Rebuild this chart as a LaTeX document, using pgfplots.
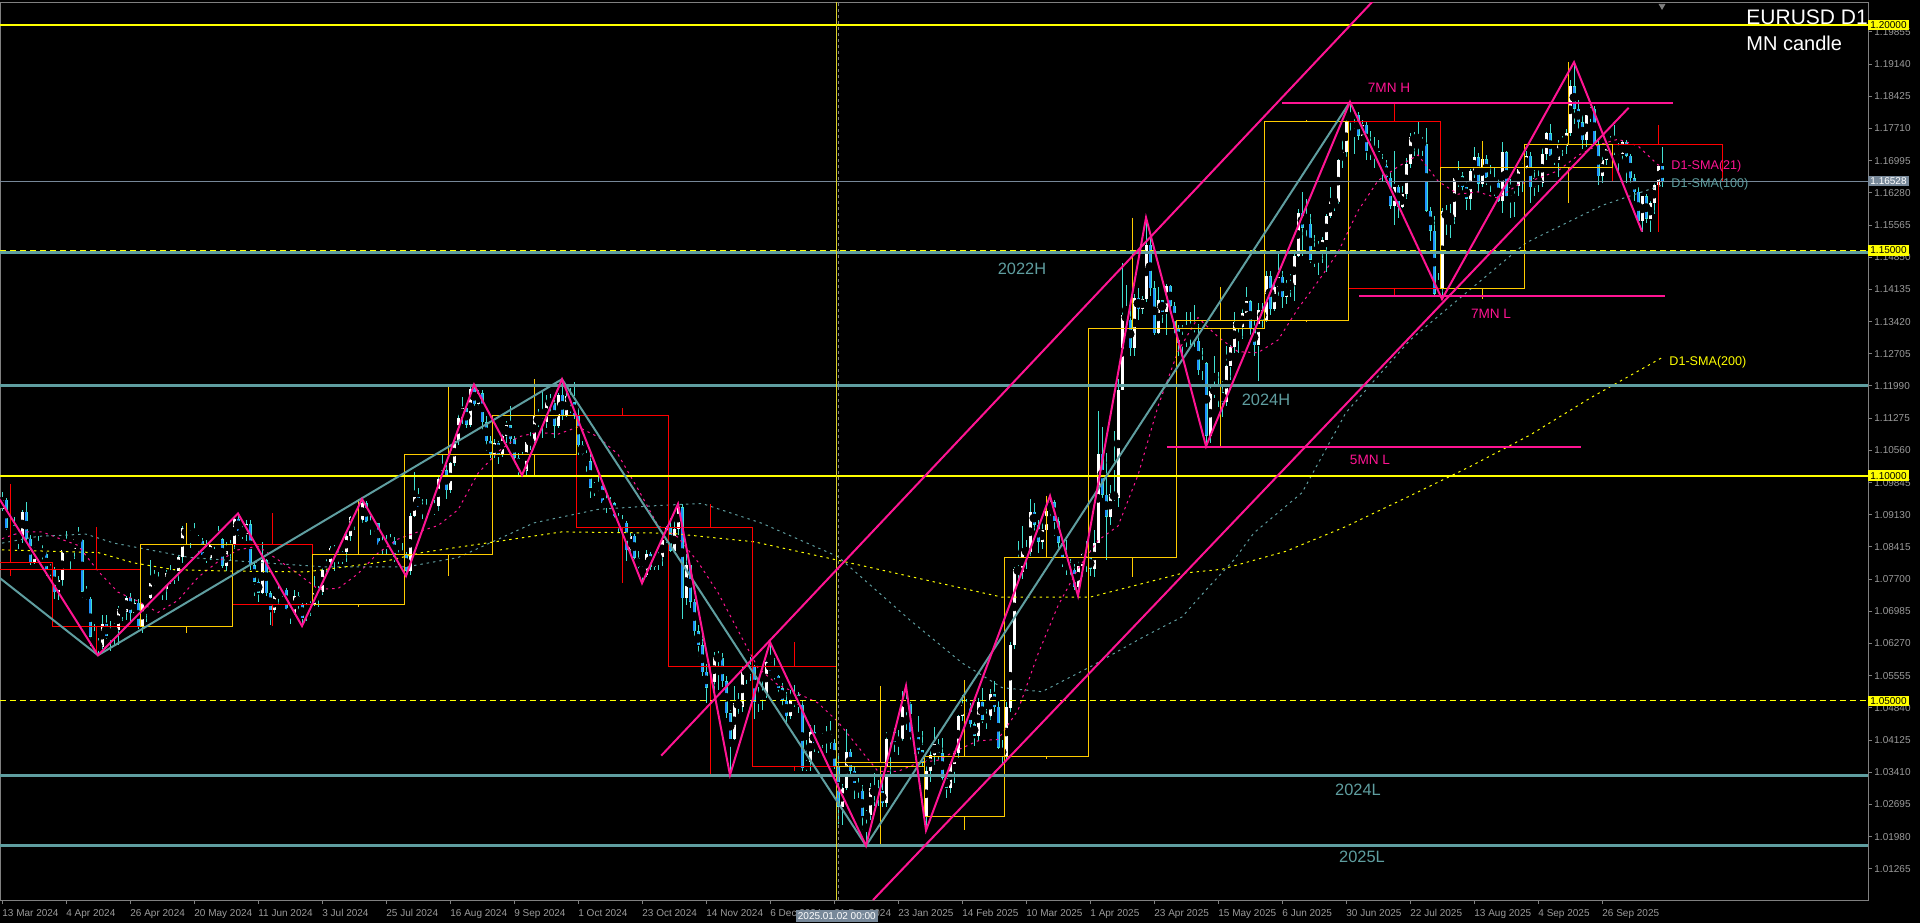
\documentclass[border=0pt]{standalone}
\usepackage{fontspec}
\setmainfont{Liberation Sans}
\usepackage{pgfplots}
\usepackage{pgfplotstable}
\pgfplotsset{compat=1.18}
\definecolor{tealc}{RGB}{95,158,160}
\definecolor{pinkc}{RGB}{255,20,147}
\definecolor{mgold}{RGB}{255,204,0}
\definecolor{mred}{RGB}{255,0,0}
\definecolor{wickc}{RGB}{64,224,208}
\definecolor{downc}{RGB}{30,144,255}
\definecolor{tickgray}{RGB}{155,155,155}
\definecolor{framegray}{RGB}{128,128,128}
\definecolor{bidgray}{RGB}{119,136,153}
\definecolor{lvly}{RGB}{255,255,0}
\definecolor{vline}{RGB}{220,210,40}

\pgfplotstableread{
x o h l c
0 1.0927 1.0964 1.0922 1.0946
1 1.0946 1.0950 1.0879 1.0883
2 1.0883 1.0906 1.0872 1.0890
3 1.0890 1.0908 1.0862 1.0868
4 1.0868 1.0880 1.0836 1.0865
5 1.0865 1.0924 1.0850 1.0920
6 1.0920 1.0942 1.0856 1.0860
7 1.0860 1.0867 1.0802 1.0808
8 1.0808 1.0845 1.0803 1.0840
9 1.0840 1.0865 1.0826 1.0830
10 1.0830 1.0846 1.0812 1.0826
11 1.0826 1.0831 1.0777 1.0790
12 1.0790 1.0803 1.0776 1.0792
13 1.0792 1.0796 1.0725 1.0741
14 1.0741 1.0776 1.0724 1.0769
15 1.0769 1.0838 1.0755 1.0835
16 1.0835 1.0876 1.0825 1.0837
17 1.0837 1.0847 1.0791 1.0836
18 1.0836 1.0862 1.0815 1.0860
19 1.0860 1.0885 1.0847 1.0857
20 1.0857 1.0860 1.0729 1.0742
21 1.0742 1.0756 1.0723 1.0727
22 1.0727 1.0730 1.0622 1.0642
23 1.0642 1.0670 1.0620 1.0625
24 1.0625 1.0640 1.0601 1.0620
25 1.0620 1.0691 1.0614 1.0671
26 1.0671 1.0690 1.0638 1.0643
27 1.0643 1.0678 1.0610 1.0655
28 1.0655 1.0673 1.0624 1.0657
29 1.0657 1.0710 1.0623 1.0703
30 1.0703 1.0715 1.0676 1.0698
31 1.0698 1.0733 1.0680 1.0729
32 1.0729 1.0740 1.0676 1.0694
33 1.0694 1.0725 1.0690 1.0718
34 1.0718 1.0726 1.0659 1.0665
35 1.0665 1.0717 1.0650 1.0715
36 1.0715 1.0730 1.0675 1.0728
37 1.0728 1.0812 1.0725 1.0761
38 1.0761 1.0790 1.0755 1.0770
39 1.0770 1.0787 1.0746 1.0753
40 1.0753 1.0764 1.0724 1.0748
41 1.0748 1.0790 1.0724 1.0783
42 1.0783 1.0801 1.0760 1.0771
43 1.0771 1.0796 1.0759 1.0788
44 1.0788 1.0824 1.0766 1.0820
45 1.0820 1.0888 1.0806 1.0883
46 1.0883 1.0895 1.0850 1.0866
47 1.0866 1.0880 1.0840 1.0870
48 1.0870 1.0895 1.0852 1.0857
49 1.0857 1.0867 1.0828 1.0855
50 1.0855 1.0861 1.0815 1.0823
51 1.0823 1.0858 1.0805 1.0818
52 1.0818 1.0858 1.0812 1.0846
53 1.0846 1.0868 1.0838 1.0857
54 1.0857 1.0889 1.0846 1.0859
55 1.0859 1.0862 1.0795 1.0800
56 1.0800 1.0852 1.0789 1.0832
57 1.0832 1.0858 1.0812 1.0848
58 1.0848 1.0909 1.0836 1.0904
59 1.0904 1.0916 1.0866 1.0877
60 1.0877 1.0888 1.0860 1.0870
61 1.0870 1.0902 1.0854 1.0892
62 1.0892 1.0902 1.0790 1.0801
63 1.0801 1.0805 1.0732 1.0764
64 1.0764 1.0772 1.0719 1.0740
65 1.0740 1.0852 1.0737 1.0812
66 1.0812 1.0815 1.0733 1.0739
67 1.0739 1.0744 1.0668 1.0701
68 1.0701 1.0740 1.0695 1.0732
69 1.0732 1.0761 1.0713 1.0740
70 1.0740 1.0753 1.0731 1.0746
71 1.0746 1.0751 1.0698 1.0703
72 1.0703 1.0713 1.0671 1.0692
73 1.0692 1.0745 1.0691 1.0732
74 1.0732 1.0741 1.0699 1.0713
75 1.0713 1.0717 1.0666 1.0683
76 1.0683 1.0718 1.0677 1.0702
77 1.0702 1.0722 1.0688 1.0713
78 1.0713 1.0776 1.0710 1.0740
79 1.0740 1.0755 1.0709 1.0741
80 1.0741 1.0797 1.0735 1.0790
81 1.0790 1.0815 1.0785 1.0809
82 1.0809 1.0844 1.0796 1.0840
83 1.0840 1.0845 1.0789 1.0826
84 1.0826 1.0834 1.0803 1.0813
85 1.0813 1.0832 1.0804 1.0830
86 1.0830 1.0871 1.0808 1.0865
87 1.0865 1.0910 1.0854 1.0907
88 1.0907 1.0914 1.0880 1.0893
89 1.0893 1.0912 1.0873 1.0901
90 1.0901 1.0948 1.0895 1.0939
91 1.0939 1.0944 1.0890 1.0898
92 1.0898 1.0911 1.0869 1.0883
93 1.0883 1.0904 1.0870 1.0894
94 1.0894 1.0895 1.0843 1.0847
95 1.0847 1.0866 1.0825 1.0846
96 1.0846 1.0868 1.0825 1.0848
97 1.0848 1.0871 1.0836 1.0855
98 1.0855 1.0863 1.0808 1.0820
99 1.0820 1.0835 1.0802 1.0817
100 1.0817 1.0850 1.0799 1.0825
101 1.0825 1.0830 1.0777 1.0789
102 1.0789 1.0916 1.0780 1.0910
103 1.0910 1.1008 1.0907 1.0953
104 1.0953 1.0972 1.0926 1.0930
105 1.0930 1.0948 1.0904 1.0922
106 1.0922 1.0947 1.0905 1.0919
107 1.0919 1.0936 1.0908 1.0916
108 1.0916 1.0945 1.0913 1.0932
109 1.0932 1.0998 1.0921 1.0992
110 1.0992 1.1047 1.0987 1.1012
111 1.1012 1.1024 1.0949 1.0967
112 1.0967 1.1031 1.0962 1.1027
113 1.1027 1.1083 1.1021 1.1077
114 1.1077 1.1138 1.1067 1.1128
115 1.1128 1.1174 1.1114 1.1151
116 1.1151 1.1157 1.1106 1.1113
117 1.1113 1.1201 1.1108 1.1193
118 1.1193 1.1202 1.1154 1.1159
119 1.1159 1.1190 1.1145 1.1183
120 1.1183 1.1191 1.1101 1.1118
121 1.1118 1.1133 1.1055 1.1077
122 1.1077 1.1089 1.1040 1.1047
123 1.1047 1.1082 1.1040 1.1073
124 1.1073 1.1076 1.1026 1.1046
125 1.1046 1.1095 1.1041 1.1089
126 1.1089 1.1121 1.1072 1.1112
127 1.1112 1.1155 1.1070 1.1081
128 1.1081 1.1088 1.1027 1.1040
129 1.1040 1.1050 1.1002 1.1017
130 1.1017 1.1052 1.1001 1.1010
131 1.1010 1.1078 1.1002 1.1075
132 1.1075 1.1098 1.1058 1.1077
133 1.1077 1.1136 1.1069 1.1132
134 1.1132 1.1147 1.1109 1.1116
135 1.1116 1.1189 1.1084 1.1118
136 1.1118 1.1180 1.1105 1.1163
137 1.1163 1.1182 1.1138 1.1161
138 1.1161 1.1167 1.1083 1.1111
139 1.1111 1.1183 1.1105 1.1180
140 1.1180 1.1214 1.1124 1.1132
141 1.1132 1.1190 1.1131 1.1177
142 1.1177 1.1194 1.1140 1.1163
143 1.1163 1.1209 1.1126 1.1134
144 1.1134 1.1150 1.1046 1.1068
145 1.1068 1.1078 1.1035 1.1048
146 1.1048 1.1058 1.1003 1.1032
147 1.1032 1.1050 1.0951 1.0973
148 1.0973 1.0985 1.0955 1.0975
149 1.0975 1.0998 1.0955 1.0978
150 1.0978 1.0983 1.0937 1.0940
151 1.0940 1.0962 1.0918 1.0936
152 1.0936 1.0953 1.0921 1.0939
153 1.0939 1.0942 1.0901 1.0910
154 1.0910 1.0918 1.0872 1.0892
155 1.0892 1.0912 1.0865 1.0895
156 1.0895 1.0900 1.0811 1.0834
157 1.0834 1.0872 1.0827 1.0867
158 1.0867 1.0870 1.0810 1.0818
159 1.0818 1.0833 1.0784 1.0796
160 1.0796 1.0805 1.0761 1.0780
161 1.0780 1.0835 1.0774 1.0826
162 1.0826 1.0830 1.0790 1.0797
163 1.0797 1.0826 1.0790 1.0817
164 1.0817 1.0832 1.0790 1.0819
165 1.0819 1.0870 1.0800 1.0856
166 1.0856 1.0889 1.0850 1.0884
167 1.0884 1.0905 1.0830 1.0833
168 1.0833 1.0900 1.0830 1.0881
169 1.0881 1.0937 1.0868 1.0930
170 1.0930 1.0937 1.0682 1.0728
171 1.0728 1.0826 1.0713 1.0801
172 1.0801 1.0802 1.0706 1.0720
173 1.0720 1.0725 1.0629 1.0654
174 1.0654 1.0668 1.0595 1.0623
175 1.0623 1.0653 1.0555 1.0564
176 1.0564 1.0582 1.0496 1.0529
177 1.0529 1.0568 1.0500 1.0541
178 1.0541 1.0609 1.0520 1.0597
179 1.0597 1.0610 1.0523 1.0594
180 1.0594 1.0605 1.0530 1.0543
181 1.0543 1.0554 1.0462 1.0472
182 1.0472 1.0480 1.0335 1.0415
183 1.0415 1.0533 1.0412 1.0496
184 1.0496 1.0518 1.0470 1.0487
185 1.0487 1.0575 1.0475 1.0566
186 1.0566 1.0575 1.0537 1.0564
187 1.0564 1.0596 1.0543 1.0577
188 1.0577 1.0580 1.0460 1.0497
189 1.0497 1.0530 1.0475 1.0512
190 1.0512 1.0545 1.0480 1.0514
191 1.0514 1.0590 1.0505 1.0587
192 1.0587 1.0630 1.0555 1.0566
193 1.0566 1.0594 1.0540 1.0555
194 1.0555 1.0558 1.0510 1.0528
195 1.0528 1.0540 1.0480 1.0500
196 1.0500 1.0520 1.0450 1.0466
197 1.0466 1.0523 1.0460 1.0502
198 1.0502 1.0535 1.0485 1.0512
199 1.0512 1.0520 1.0472 1.0491
200 1.0491 1.0500 1.0343 1.0350
201 1.0350 1.0412 1.0343 1.0363
202 1.0363 1.0445 1.0343 1.0431
203 1.0431 1.0447 1.0386 1.0406
204 1.0406 1.0410 1.0385 1.0404
205 1.0404 1.0429 1.0395 1.0419
206 1.0419 1.0444 1.0385 1.0426
207 1.0426 1.0456 1.0393 1.0407
208 1.0407 1.0415 1.0349 1.0355
209 1.0355 1.0377 1.0226 1.0265
210 1.0265 1.0315 1.0224 1.0306
211 1.0306 1.0437 1.0301 1.0387
212 1.0387 1.0393 1.0330 1.0345
213 1.0345 1.0356 1.0282 1.0317
214 1.0317 1.0328 1.0283 1.0300
215 1.0300 1.0312 1.0213 1.0244
216 1.0244 1.0258 1.0178 1.0247
217 1.0247 1.0317 1.0236 1.0307
218 1.0307 1.0339 1.0267 1.0290
219 1.0290 1.0325 1.0267 1.0300
220 1.0300 1.0319 1.0265 1.0272
221 1.0272 1.0430 1.0263 1.0416
222 1.0416 1.0433 1.0335 1.0430
223 1.0430 1.0440 1.0386 1.0408
224 1.0408 1.0435 1.0380 1.0414
225 1.0414 1.0522 1.0411 1.0495
226 1.0495 1.0533 1.0435 1.0493
227 1.0493 1.0497 1.0410 1.0430
228 1.0430 1.0436 1.0381 1.0420
229 1.0420 1.0467 1.0376 1.0390
230 1.0390 1.0433 1.0352 1.0362
231 1.0242 1.0369 1.0212 1.0345
232 1.0345 1.0398 1.0320 1.0380
233 1.0380 1.0442 1.0358 1.0405
234 1.0405 1.0414 1.0355 1.0383
235 1.0383 1.0418 1.0310 1.0329
236 1.0329 1.0340 1.0285 1.0307
237 1.0307 1.0365 1.0296 1.0360
238 1.0360 1.0387 1.0317 1.0385
239 1.0385 1.0468 1.0372 1.0466
240 1.0466 1.0513 1.0454 1.0491
241 1.0491 1.0504 1.0460 1.0485
242 1.0485 1.0495 1.0435 1.0448
243 1.0448 1.0452 1.0400 1.0422
244 1.0422 1.0505 1.0410 1.0498
245 1.0498 1.0528 1.0450 1.0458
246 1.0458 1.0481 1.0438 1.0466
247 1.0466 1.0527 1.0458 1.0514
248 1.0514 1.0545 1.0476 1.0486
249 1.0486 1.0500 1.0393 1.0396
250 1.0396 1.0412 1.0359 1.0376
251 1.0376 1.0497 1.0370 1.0485
252 1.0485 1.0631 1.0476 1.0624
253 1.0624 1.0796 1.0615 1.0793
254 1.0793 1.0854 1.0767 1.0785
255 1.0785 1.0888 1.0770 1.0833
256 1.0833 1.0856 1.0793 1.0831
257 1.0831 1.0947 1.0822 1.0920
258 1.0920 1.0939 1.0873 1.0891
259 1.0891 1.0902 1.0828 1.0853
260 1.0853 1.0905 1.0838 1.0880
261 1.0880 1.0928 1.0869 1.0922
262 1.0922 1.0955 1.0905 1.0941
263 1.0941 1.0946 1.0866 1.0899
264 1.0899 1.0907 1.0839 1.0851
265 1.0851 1.0862 1.0797 1.0816
266 1.0816 1.0858 1.0780 1.0802
267 1.0802 1.0815 1.0776 1.0791
268 1.0791 1.0804 1.0745 1.0753
269 1.0753 1.0812 1.0733 1.0800
270 1.0800 1.0828 1.0774 1.0826
271 1.0826 1.0855 1.0785 1.0817
272 1.0817 1.0835 1.0777 1.0793
273 1.0793 1.0880 1.0775 1.0850
274 1.0850 1.1144 1.0850 1.1049
275 1.1049 1.1107 1.0951 1.0958
276 1.0958 1.1050 1.0812 1.0909
277 1.0909 1.0980 1.0890 1.0960
278 1.0960 1.1100 1.0944 1.0950
279 1.0950 1.1214 1.0930 1.1190
280 1.1190 1.1473 1.1190 1.1357
281 1.1357 1.1424 1.1310 1.1346
282 1.1346 1.1376 1.1265 1.1283
283 1.1283 1.1403 1.1266 1.1395
284 1.1395 1.1417 1.1346 1.1370
285 1.1370 1.1399 1.1360 1.1393
286 1.1393 1.1573 1.1386 1.1512
287 1.1512 1.1536 1.1400 1.1416
288 1.1416 1.1432 1.1313 1.1316
289 1.1316 1.1419 1.1315 1.1389
290 1.1389 1.1393 1.1340 1.1363
291 1.1363 1.1425 1.1313 1.1421
292 1.1421 1.1424 1.1366 1.1377
293 1.1377 1.1385 1.1313 1.1327
294 1.1327 1.1335 1.1265 1.1294
295 1.1294 1.1335 1.1270 1.1298
296 1.1298 1.1363 1.1286 1.1314
297 1.1314 1.1363 1.1291 1.1316
298 1.1316 1.1380 1.1285 1.1300
299 1.1300 1.1336 1.1223 1.1234
300 1.1234 1.1283 1.1212 1.1250
301 1.1250 1.1253 1.1065 1.1089
302 1.1089 1.1196 1.1073 1.1188
303 1.1188 1.1265 1.1172 1.1190
304 1.1190 1.1230 1.1153 1.1185
305 1.1185 1.1211 1.1131 1.1163
306 1.1163 1.1287 1.1154 1.1243
307 1.1243 1.1290 1.1212 1.1285
308 1.1285 1.1363 1.1273 1.1341
309 1.1341 1.1344 1.1272 1.1330
310 1.1330 1.1375 1.1303 1.1362
311 1.1362 1.1419 1.1355 1.1387
312 1.1387 1.1390 1.1303 1.1325
313 1.1325 1.1345 1.1265 1.1289
314 1.1289 1.1384 1.1210 1.1367
315 1.1367 1.1383 1.1328 1.1345
316 1.1345 1.1454 1.1342 1.1443
317 1.1443 1.1455 1.1356 1.1370
318 1.1370 1.1436 1.1365 1.1419
319 1.1419 1.1495 1.1399 1.1442
320 1.1442 1.1454 1.1372 1.1396
321 1.1396 1.1435 1.1380 1.1421
322 1.1421 1.1448 1.1396 1.1423
323 1.1423 1.1493 1.1387 1.1487
324 1.1487 1.1593 1.1485 1.1584
325 1.1584 1.1631 1.1488 1.1550
326 1.1550 1.1614 1.1530 1.1559
327 1.1559 1.1580 1.1473 1.1479
328 1.1479 1.1535 1.1463 1.1481
329 1.1481 1.1520 1.1445 1.1496
330 1.1496 1.1529 1.1473 1.1523
331 1.1523 1.1582 1.1452 1.1577
332 1.1577 1.1641 1.1573 1.1610
333 1.1610 1.1619 1.1588 1.1608
334 1.1608 1.1703 1.1603 1.1700
335 1.1700 1.1745 1.1684 1.1718
336 1.1718 1.1790 1.1707 1.1787
337 1.1787 1.1830 1.1764 1.1800
338 1.1800 1.1808 1.1715 1.1802
339 1.1802 1.1808 1.1745 1.1755
340 1.1755 1.1790 1.1751 1.1779
341 1.1779 1.1785 1.1700 1.1721
342 1.1721 1.1766 1.1700 1.1725
343 1.1725 1.1752 1.1683 1.1720
344 1.1720 1.1745 1.1690 1.1699
345 1.1699 1.1714 1.1655 1.1688
346 1.1688 1.1700 1.1650 1.1662
347 1.1662 1.1677 1.1592 1.1599
348 1.1599 1.1721 1.1556 1.1641
349 1.1641 1.1645 1.1573 1.1597
350 1.1597 1.1644 1.1594 1.1625
351 1.1625 1.1705 1.1614 1.1693
352 1.1693 1.1760 1.1683 1.1753
353 1.1753 1.1762 1.1710 1.1743
354 1.1743 1.1788 1.1711 1.1740
355 1.1740 1.1752 1.1710 1.1736
356 1.1736 1.1771 1.1586 1.1588
357 1.1588 1.1596 1.1520 1.1544
358 1.1544 1.1576 1.1400 1.1404
359 1.1404 1.1450 1.1400 1.1416
360 1.1416 1.1595 1.1392 1.1587
361 1.1587 1.1600 1.1534 1.1572
362 1.1572 1.1604 1.1528 1.1575
363 1.1575 1.1665 1.1558 1.1660
364 1.1660 1.1698 1.1640 1.1665
365 1.1665 1.1675 1.1626 1.1641
366 1.1641 1.1655 1.1590 1.1615
367 1.1615 1.1682 1.1590 1.1676
368 1.1676 1.1730 1.1660 1.1707
369 1.1707 1.1716 1.1630 1.1648
370 1.1648 1.1713 1.1640 1.1703
371 1.1703 1.1712 1.1646 1.1662
372 1.1662 1.1690 1.1630 1.1648
373 1.1648 1.1686 1.1620 1.1650
374 1.1650 1.1665 1.1607 1.1610
375 1.1610 1.1742 1.1583 1.1718
376 1.1718 1.1720 1.1614 1.1620
377 1.1620 1.1659 1.1573 1.1640
378 1.1640 1.1660 1.1574 1.1643
379 1.1643 1.1688 1.1620 1.1680
380 1.1680 1.1699 1.1630 1.1685
381 1.1685 1.1720 1.1680 1.1710
382 1.1710 1.1718 1.1606 1.1640
383 1.1640 1.1678 1.1620 1.1660
384 1.1660 1.1680 1.1630 1.1650
385 1.1650 1.1737 1.1640 1.1715
386 1.1715 1.1762 1.1700 1.1760
387 1.1760 1.1781 1.1700 1.1710
388 1.1710 1.1720 1.1690 1.1700
389 1.1700 1.1745 1.1662 1.1735
390 1.1735 1.1755 1.1710 1.1732
391 1.1732 1.1770 1.1715 1.1760
392 1.1760 1.1878 1.1755 1.1865
393 1.1865 1.1918 1.1780 1.1815
394 1.1815 1.1835 1.1763 1.1785
395 1.1785 1.1800 1.1725 1.1745
396 1.1745 1.1808 1.1730 1.1800
397 1.1800 1.1819 1.1785 1.1815
398 1.1815 1.1820 1.1735 1.1735
399 1.1735 1.1750 1.1645 1.1665
400 1.1665 1.1710 1.1650 1.1700
401 1.1700 1.1740 1.1690 1.1725
402 1.1725 1.1754 1.1712 1.1735
403 1.1735 1.1778 1.1713 1.1730
404 1.1730 1.1738 1.1668 1.1715
405 1.1715 1.1745 1.1695 1.1740
406 1.1740 1.1745 1.1650 1.1710
407 1.1710 1.1715 1.1640 1.1660
408 1.1660 1.1670 1.1610 1.1630
409 1.1630 1.1640 1.1560 1.1565
410 1.1565 1.1622 1.1542 1.1620
411 1.1620 1.1625 1.1560 1.1570
412 1.1570 1.1610 1.1542 1.1605
413 1.1605 1.1650 1.1580 1.1645
414 1.1645 1.1690 1.1617 1.1688
415 1.1688 1.1729 1.1640 1.1653
}\daily

\begin{document}
\begin{tikzpicture}
\fill[black] (0pt,0pt) rectangle (960pt,461.5pt);
\useasboundingbox (0pt,0pt) rectangle (960pt,461.5pt);
\begin{axis}[
  at={(0pt,11.5pt)}, anchor=south west,
  scale only axis, width=934pt, height=449pt,
  xmin=-0.5, xmax=466.5, ymin=1.005742, ymax=1.205175,
  clip mode=individual,
  axis line style={framegray, line width=0.5pt},
  tick style={framegray, line width=0.5pt},
  tick align=outside, major tick length=2pt,
  ytick pos=right, yticklabel pos=right,
  xtick pos=bottom,
  ytick={1.19855,1.19140,1.18425,1.17710,1.16995,1.16280,1.15565,1.14850,1.14135,1.13420,1.12705,1.11990,1.11275,1.10560,1.09845,1.09130,1.08415,1.07700,1.06985,1.06270,1.05555,1.04840,1.04125,1.03410,1.02695,1.01980,1.01265},
  yticklabels={1.19855,1.19140,1.18425,1.17710,1.16995,1.16280,1.15565,1.14850,1.14135,1.13420,1.12705,1.11990,1.11275,1.10560,1.09845,1.09130,1.08415,1.07700,1.06985,1.06270,1.05555,1.04840,1.04125,1.03410,1.02695,1.01980,1.01265},
  xtick={0,16,...,400},
  xticklabels={13 Mar 2024,4 Apr 2024,26 Apr 2024,20 May 2024,11 Jun 2024,3 Jul 2024,25 Jul 2024,16 Aug 2024,9 Sep 2024,1 Oct 2024,23 Oct 2024,14 Nov 2024,6 Dec 2024,31 Dec 2024,23 Jan 2025,14 Feb 2025,10 Mar 2025,1 Apr 2025,23 Apr 2025,15 May 2025,6 Jun 2025,30 Jun 2025,22 Jul 2025,13 Aug 2025,4 Sep 2025,26 Sep 2025},
  yticklabel style={font=\fontsize{5pt}{6pt}\selectfont, text=tickgray, inner sep=0pt, anchor=west, xshift=1pt},
  xticklabel style={font=\fontsize{5pt}{6pt}\selectfont, text=tickgray, inner sep=0pt, anchor=north west, yshift=-2.5pt},
  after end axis/.code={
    \node[anchor=west, fill=lvly, text=black, font=\fontsize{5pt}{6pt}\selectfont, inner xsep=1pt, inner ysep=0.8pt] at (axis cs:466.5,1.2) {1.20000};
    \node[anchor=west, fill=lvly, text=black, font=\fontsize{5pt}{6pt}\selectfont, inner xsep=1pt, inner ysep=0.8pt] at (axis cs:466.5,1.15) {1.15000};
    \node[anchor=west, fill=lvly, text=black, font=\fontsize{5pt}{6pt}\selectfont, inner xsep=1pt, inner ysep=0.8pt] at (axis cs:466.5,1.10) {1.10000};
    \node[anchor=west, fill=lvly, text=black, font=\fontsize{5pt}{6pt}\selectfont, inner xsep=1pt, inner ysep=0.8pt] at (axis cs:466.5,1.05) {1.05000};
    \node[anchor=west, fill=bidgray, text=white, font=\fontsize{5pt}{6pt}\selectfont, inner xsep=1pt, inner ysep=0.8pt] at (axis cs:466.5,1.16538) {1.16528};
    \node[fill=bidgray, text=white, font=\fontsize{5pt}{6pt}\selectfont, inner xsep=1pt, inner ysep=1pt] at (axis cs:208.7,1.005742) [yshift=-8pt] {2025.01.02 00:00};
  },
]
% ---- daily candles: wicks
\addplot[only marks, mark=none, forget plot, error bars/.cd, y dir=both, y explicit, error mark=none, error bar style={wickc, line width=0.5pt}]
  table[x=x, y expr={(\thisrow{h}+\thisrow{l})/2}, y error expr={(\thisrow{h}-\thisrow{l})/2}] {\daily};
% up bodies
\addplot[only marks, mark=none, forget plot, unbounded coords=discard, error bars/.cd, y dir=both, y explicit, error mark=none, error bar style={white, line width=1.5pt}]
  table[x expr={\thisrow{c}>=\thisrow{o} ? \thisrow{x} : nan}, y expr={(\thisrow{o}+\thisrow{c})/2}, y error expr={max(abs(\thisrow{c}-\thisrow{o})/2,0.00011)}] {\daily};
% down bodies
\addplot[only marks, mark=none, forget plot, unbounded coords=discard, error bars/.cd, y dir=both, y explicit, error mark=none, error bar style={wickc, line width=1.5pt}]
  table[x expr={\thisrow{c}<\thisrow{o} ? \thisrow{x} : nan}, y expr={(\thisrow{o}+\thisrow{c})/2}, y error expr={max(abs(\thisrow{c}-\thisrow{o})/2,0.00011)}] {\daily};
\addplot[only marks, mark=none, forget plot, unbounded coords=discard, error bars/.cd, y dir=both, y explicit, error mark=none, error bar style={downc, line width=0.9pt}]
  table[x expr={\thisrow{c}<\thisrow{o} ? \thisrow{x} : nan}, y expr={(\thisrow{o}+\thisrow{c})/2}, y error expr={max(abs(\thisrow{c}-\thisrow{o})/2-0.0001,0.00005)}] {\daily};

% ---- moving averages
\addplot[pinkc, line width=0.5pt, dash pattern=on 1.2pt off 2pt] coordinates {
(0,1.0860) (5,1.0875) (10,1.0875) (15,1.0858) (19,1.0845) (24,1.0788) (29,1.0741) (34,1.0721) (39,1.0696) (44,1.0723) (49,1.0774) (54,1.0809) (59,1.0835) (64,1.0843) (69,1.0813) (74,1.0782) (79,1.0748) (84,1.0749) (89,1.0782) (94,1.0828) (99,1.0859) (104,1.0875) (109,1.0889) (114,1.0924) (119,1.1005) (124,1.1053) (129,1.1086) (134,1.1096) (139,1.1092) (144,1.1108) (149,1.1086) (154,1.1047) (159,1.0970) (164,1.0889) (169,1.0863) (174,1.0808) (179,1.0740) (184,1.0656) (189,1.0573) (194,1.0535) (199,1.0516) (204,1.0495) (209,1.0453) (214,1.0398) (219,1.0343) (224,1.0343) (229,1.0362) (234,1.0368) (239,1.0391) (244,1.0411) (249,1.0414) (254,1.0479) (259,1.0604) (264,1.0711) (269,1.0793) (274,1.0856) (279,1.0888) (284,1.1001) (289,1.1154) (294,1.1276) (299,1.1351) (304,1.1308) (309,1.1275) (314,1.1273) (319,1.1301) (324,1.1371) (329,1.1431) (334,1.1496) (339,1.1588) (344,1.1655) (349,1.1686) (354,1.1712) (359,1.1654) (364,1.1625) (369,1.1630) (374,1.1616) (379,1.1646) (384,1.1660) (389,1.1677) (394,1.1711) (399,1.1734) (404,1.1747) (409,1.1732) (414,1.1690) (415,1.1688)};
\addplot[tealc, line width=0.5pt, dash pattern=on 1.2pt off 2pt] coordinates {
(0,1.0850) (9,1.0865) (21,1.0870) (28,1.0850) (47,1.0818) (66,1.0806) (81,1.0797) (101,1.0797) (114,1.0818) (133,1.0895) (149,1.0925) (165,1.0934) (175,1.0938) (190,1.0894) (209,1.0820) (227,1.0679) (240,1.0584) (250,1.0529) (260,1.0520) (272,1.0575) (285,1.0640) (295,1.0686) (301,1.0746) (308,1.0813) (313,1.0873) (325,1.0962) (336,1.1140) (352,1.1301) (360,1.1361) (381,1.1517) (400,1.1600) (415,1.1645)};
\addplot[lvly, line width=0.5pt, dash pattern=on 1.2pt off 2pt] coordinates {
(0,1.0835) (24,1.0829) (33,1.0806) (43,1.0791) (57,1.0788) (76,1.0786) (95,1.0808) (105,1.0829) (124,1.0854) (140,1.0875) (167,1.0872) (188,1.0853) (209,1.0812) (231,1.0768) (250,1.0730) (272,1.0730) (295,1.0783) (305,1.0792) (321,1.0832) (336,1.0887) (352,1.0955) (367,1.1020) (382,1.1090) (397,1.1172) (415,1.1262)};

% ---- monthly candles (boxes open-close, wicks outside)
\addplot[mred, line width=0.5pt, unbounded coords=jump] coordinates {
(-8.5,1.0806) (12.5,1.0806) (12.5,1.0792) (-8.5,1.0792) (-8.5,1.0806) (nan,nan)
(12.5,1.0792) (34.5,1.0792) (34.5,1.0665) (12.5,1.0665) (12.5,1.0792) (nan,nan)
(57.5,1.0848) (77.5,1.0848) (77.5,1.0713) (57.5,1.0713) (57.5,1.0848) (nan,nan)
(143.5,1.1134) (166.5,1.1134) (166.5,1.0884) (143.5,1.0884) (143.5,1.1134) (nan,nan)
(166.5,1.0884) (187.5,1.0884) (187.5,1.0577) (166.5,1.0577) (166.5,1.0884) (nan,nan)
(187.5,1.0577) (208.5,1.0577) (208.5,1.0355) (187.5,1.0355) (187.5,1.0577) (nan,nan)
(336.5,1.1787) (359.5,1.1787) (359.5,1.1416) (336.5,1.1416) (336.5,1.1787) (nan,nan)
(402.5,1.1735) (430,1.1735) (430,1.1653) (402.5,1.1653) (402.5,1.1735) (nan,nan)
(2,1.0981) (2,1.0806) (nan,nan) (2,1.0792) (2,1.0776) (nan,nan)
(23.5,1.0885) (23.5,1.0792) (nan,nan) (23.5,1.0665) (23.5,1.0601) (nan,nan)
(67.5,1.0916) (67.5,1.0848) (nan,nan) (67.5,1.0713) (67.5,1.0666) (nan,nan)
(155,1.1150) (155,1.1134) (nan,nan) (155,1.0884) (155,1.0761) (nan,nan)
(177,1.0937) (177,1.0884) (nan,nan) (177,1.0577) (177,1.0335) (nan,nan)
(198,1.0630) (198,1.0577) (nan,nan) (198,1.0355) (198,1.0343) (nan,nan)
(348,1.1830) (348,1.1787) (nan,nan) (348,1.1416) (348,1.1400) (nan,nan)
(414,1.1778) (414,1.1735) (nan,nan) (414,1.1653) (414,1.1542)};
\addplot[mgold, line width=0.5pt, unbounded coords=jump] coordinates {
(34.5,1.0665) (57.5,1.0665) (57.5,1.0848) (34.5,1.0848) (34.5,1.0665) (nan,nan)
(77.5,1.0713) (100.5,1.0713) (100.5,1.0825) (77.5,1.0825) (77.5,1.0713) (nan,nan)
(100.5,1.0825) (122.5,1.0825) (122.5,1.1047) (100.5,1.1047) (100.5,1.0825) (nan,nan)
(122.5,1.1047) (143.5,1.1047) (143.5,1.1134) (122.5,1.1134) (122.5,1.1047) (nan,nan)
(208.5,1.0355) (230.5,1.0355) (230.5,1.0362) (208.5,1.0362) (208.5,1.0355) (nan,nan)
(230.5,1.0242) (250.5,1.0242) (250.5,1.0376) (230.5,1.0376) (230.5,1.0242) (nan,nan)
(250.5,1.0376) (271.5,1.0376) (271.5,1.0817) (250.5,1.0817) (250.5,1.0376) (nan,nan)
(271.5,1.0817) (293.5,1.0817) (293.5,1.1327) (271.5,1.1327) (271.5,1.0817) (nan,nan)
(293.5,1.1327) (315.5,1.1327) (315.5,1.1345) (293.5,1.1345) (293.5,1.1327) (nan,nan)
(315.5,1.1345) (336.5,1.1345) (336.5,1.1787) (315.5,1.1787) (315.5,1.1345) (nan,nan)
(359.5,1.1416) (380.5,1.1416) (380.5,1.1685) (359.5,1.1685) (359.5,1.1416) (nan,nan)
(380.5,1.1685) (402.5,1.1685) (402.5,1.1735) (380.5,1.1735) (380.5,1.1685) (nan,nan)
(46,1.0895) (46,1.0848) (nan,nan) (46,1.0665) (46,1.0650) (nan,nan)
(89,1.0948) (89,1.0825) (nan,nan) (89,1.0713) (89,1.0709) (nan,nan)
(111.5,1.1202) (111.5,1.1047) (nan,nan) (111.5,1.0825) (111.5,1.0777) (nan,nan)
(133,1.1214) (133,1.1134) (nan,nan) (133,1.1047) (133,1.1001) (nan,nan)
(219.5,1.0533) (219.5,1.0362) (nan,nan) (219.5,1.0355) (219.5,1.0178) (nan,nan)
(240.5,1.0545) (240.5,1.0376) (nan,nan) (240.5,1.0242) (240.5,1.0212) (nan,nan)
(261,1.0955) (261,1.0817) (nan,nan) (261,1.0376) (261,1.0370) (nan,nan)
(282.5,1.1573) (282.5,1.1327) (nan,nan) (282.5,1.0817) (282.5,1.0775) (nan,nan)
(304.5,1.1419) (304.5,1.1345) (nan,nan) (304.5,1.1327) (304.5,1.1065) (nan,nan)
(326,1.1790) (326,1.1787) (nan,nan) (326,1.1345) (326,1.1342) (nan,nan)
(370,1.1742) (370,1.1685) (nan,nan) (370,1.1416) (370,1.1392) (nan,nan)
(391.5,1.1918) (391.5,1.1735) (nan,nan) (391.5,1.1685) (391.5,1.1606)};

% ---- horizontal levels
\addplot[lvly, line width=1pt] coordinates {(-0.5,1.2) (466.5,1.2)};
\addplot[bidgray, line width=0.5pt] coordinates {(-0.5,1.16538) (466.5,1.16538)};
\addplot[tealc, line width=1.5pt] coordinates {(-0.5,1.1496) (466.5,1.1496)};
\addplot[lvly, line width=0.5pt, dash pattern=on 3pt off 2pt] coordinates {(-0.5,1.15) (466.5,1.15)};
\addplot[tealc, line width=1.5pt] coordinates {(-0.5,1.1201) (466.5,1.1201)};
\addplot[lvly, line width=1pt] coordinates {(-0.5,1.1) (466.5,1.1)};
\addplot[lvly, line width=0.5pt, dash pattern=on 3pt off 2pt] coordinates {(-0.5,1.05) (466.5,1.05)};
\addplot[tealc, line width=1.5pt] coordinates {(-0.5,1.0335) (466.5,1.0335)};
\addplot[tealc, line width=1.5pt] coordinates {(-0.5,1.0178) (466.5,1.0178)};
% ---- vertical line 2025.01.02
\addplot[vline, line width=0.5pt] coordinates {(208.7,1.005742) (208.7,1.205175)};
\addplot[framegray, line width=0.5pt, dash pattern=on 1.5pt off 1.5pt] coordinates {(209.1,1.005742) (209.1,1.205175)};

% ---- zigzags
\addplot[tealc, line width=1pt] coordinates {(-53,1.1139) (24,1.0601) (140,1.1214) (216,1.0178) (337,1.1830)};
\addplot[pinkc, line width=1pt] coordinates {(-3,1.0981) (24,1.0601) (59,1.0916) (75,1.0666) (90,1.0948) (101,1.0777) (118,1.1202) (130,1.1001) (140,1.1214) (160,1.0761) (169,1.0937) (182,1.0335) (192,1.0630) (216,1.0178) (226,1.0533) (231,1.0212) (262,1.0955) (269,1.0733) (286,1.1573) (301,1.1065) (337,1.1830) (360,1.1392) (393,1.1918) (410,1.1542)};
% ---- channel and monthly levels
\addplot[pinkc, line width=1pt] coordinates {(164.8,1.0378) (345,1.2075)};
\addplot[pinkc, line width=1pt] coordinates {(217.75,1.00574) (406.65,1.18168)};
\addplot[pinkc, line width=1pt] coordinates {(320,1.18277) (417.7,1.18277)};
\addplot[pinkc, line width=1pt] coordinates {(339.3,1.13981) (415.8,1.13981)};
\addplot[pinkc, line width=1pt] coordinates {(291.2,1.10634) (394.7,1.10634)};
% ---- chart shift marker
\addplot[only marks, mark=triangle*, mark size=1.6pt, mark options={rotate=180, fill=framegray, draw=framegray}] coordinates {(415,1.2043)};

% ---- labels
\node[text=tealc, font=\fontsize{8.2pt}{9pt}\selectfont] at (axis cs:255,1.14587) {2022H};
\node[text=tealc, font=\fontsize{8.2pt}{9pt}\selectfont] at (axis cs:316,1.11678) {2024H};
\node[text=tealc, font=\fontsize{8.2pt}{9pt}\selectfont] at (axis cs:339,1.03017) {2024L};
\node[text=tealc, font=\fontsize{8.2pt}{9pt}\selectfont] at (axis cs:340,1.01529) {2025L};
\node[text=pinkc, font=\fontsize{6.8pt}{8pt}\selectfont] at (axis cs:342,1.10346) {5MN L};
\node[text=pinkc, font=\fontsize{6.8pt}{8pt}\selectfont] at (axis cs:346.75,1.18606) {7MN H};
\node[text=pinkc, font=\fontsize{6.8pt}{8pt}\selectfont] at (axis cs:372.25,1.13588) {7MN L};
\node[text=pinkc, font=\fontsize{6.3pt}{7pt}\selectfont, anchor=west, inner sep=0pt] at (axis cs:417.25,1.16875) {D1-SMA(21)};
\node[text=tealc, font=\fontsize{6.3pt}{7pt}\selectfont, anchor=west, inner sep=0pt] at (axis cs:417.25,1.16464) {D1-SMA(100)};
\node[text=lvly, font=\fontsize{6.3pt}{7pt}\selectfont, anchor=west, inner sep=0pt] at (axis cs:416.75,1.12522) {D1-SMA(200)};
\node[text=white, font=\fontsize{10.5pt}{12pt}\selectfont, anchor=base west, inner sep=0pt] at (axis cs:436,1.2001) {EURUSD D1};
\node[text=white, font=\fontsize{10pt}{12pt}\selectfont, anchor=base west, inner sep=0pt] at (axis cs:436,1.19451) {MN candle};
\end{axis}
\end{tikzpicture}
\end{document}
